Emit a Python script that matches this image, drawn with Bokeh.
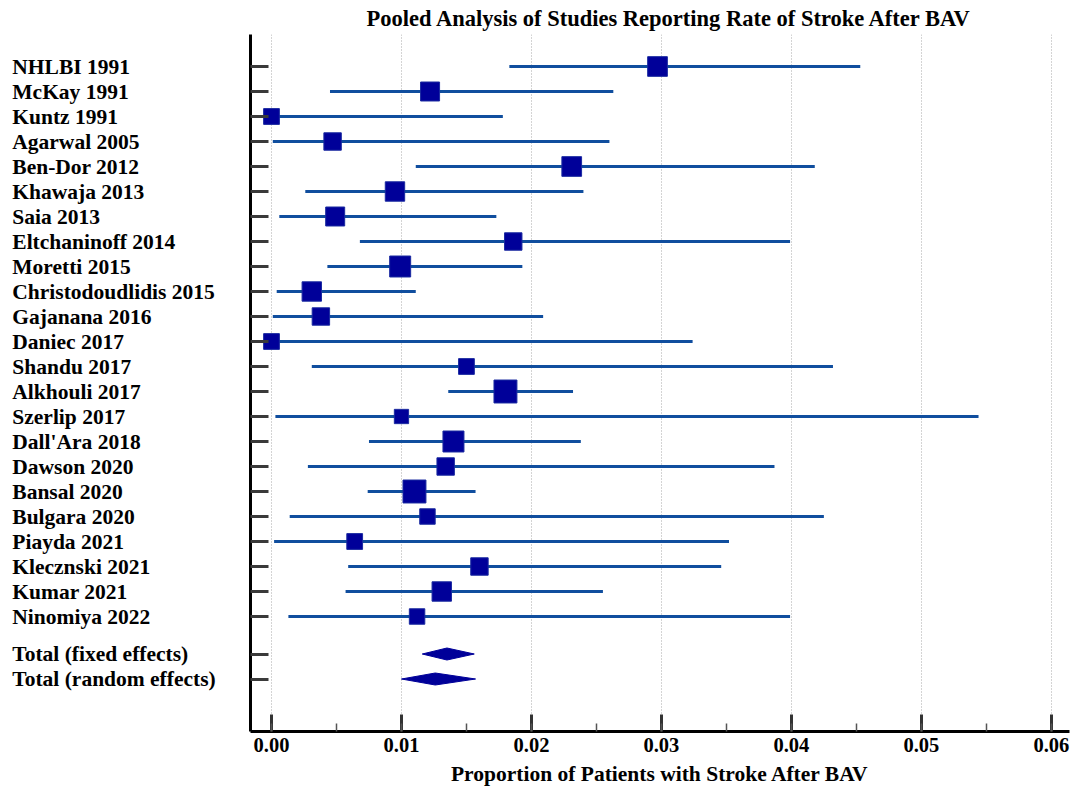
from bokeh.plotting import figure
from bokeh.layouts import row
from bokeh.models import (Range1d, FixedTicker, SingleIntervalTicker,
                          ColumnDataSource, PrintfTickFormatter)
from bokeh.core.properties import value
from bokeh.embed import file_html
from bokeh.resources import INLINE
import math

studies = ["NHLBI 1991", "McKay 1991", "Kuntz 1991", "Agarwal 2005", "Ben-Dor 2012",
           "Khawaja 2013", "Saia 2013", "Eltchaninoff 2014", "Moretti 2015",
           "Christodoudlidis 2015", "Gajanana 2016", "Daniec 2017", "Shandu 2017",
           "Alkhouli 2017", "Szerlip 2017", "Dall'Ara 2018", "Dawson 2020", "Bansal 2020",
           "Bulgara 2020", "Piayda 2021", "Kleczn" + "ski 2021", "Kumar 2021", "Ninomiya 2022"]

estimate = [0.0297, 0.0122, 0.0000, 0.0047, 0.0231, 0.0095, 0.0049, 0.0186, 0.0099,
            0.0031, 0.0038, 0.0000, 0.0150, 0.0180, 0.0100, 0.0140, 0.0134, 0.0110,
            0.0120, 0.0064, 0.0160, 0.0131, 0.0112]
lower = [0.0183, 0.0045, 0.0000, 0.0001, 0.0111, 0.0026, 0.0006, 0.0068, 0.0043,
         0.0004, 0.0001, 0.0000, 0.0031, 0.0136, 0.0003, 0.0075, 0.0028, 0.0074,
         0.0014, 0.0002, 0.0059, 0.0057, 0.0013]
upper = [0.0453, 0.0263, 0.0178, 0.0260, 0.0418, 0.0240, 0.0173, 0.0399, 0.0193,
         0.0111, 0.0209, 0.0324, 0.0432, 0.0232, 0.0544, 0.0238, 0.0387, 0.0157,
         0.0425, 0.0352, 0.0346, 0.0255, 0.0399]
weight = [5.0, 4.65, 3.2, 3.91, 5.0, 4.85, 4.65, 3.91, 5.68, 4.85, 3.91, 3.2, 3.2,
          6.79, 2.63, 5.68, 3.91, 6.79, 3.08, 3.2, 3.91, 4.85, 3.08]

totals = ["Total (fixed effects)", "Total (random effects)"]
total_est = [0.0135, 0.0126]
total_lo = [0.0116, 0.0100]
total_hi = [0.0156, 0.0157]

title = "Pooled Analysis of Studies Reporting Rate of Stroke After BAV"
xlabel = "Proportion of Patients with Stroke After BAV"

FONT = "Liberation Serif"
n = len(studies)
ys = [-i for i in range(n)]
total_y = [-(n - 1) - 1.5, -(n - 1) - 2.5]

H = 789
TOP = 34
BOTTOM = 58
LEFT_W = 240

y_range = Range1d(-26.6, 1.28)

# ---- main forest plot ----
p = figure(width=1075 - LEFT_W, height=H,
           x_range=Range1d(-0.001616, 0.061399), y_range=y_range,
           output_backend="svg", toolbar_location=None,
           min_border_left=10, min_border_right=6, min_border_top=TOP,
           min_border_bottom=BOTTOM)
p.outline_line_color = None

p.title.text = title
p.title.text_font = FONT
p.title.text_font_style = "bold"
p.title.text_font_size = "22.5px"
p.title.text_color = "black"
p.title.align = "left"
p.title.offset = 116
p.title.standoff = 7

p.ygrid.visible = False
p.xgrid.ticker = SingleIntervalTicker(interval=0.01, num_minor_ticks=2)
p.xgrid.grid_line_color = "#a8a8a8"
p.xgrid.grid_line_dash = "1 2"
p.xgrid.grid_line_width = 1

xa = p.xaxis[0]
xa.ticker = SingleIntervalTicker(interval=0.01, num_minor_ticks=2)
xa.formatter = PrintfTickFormatter(format="%.2f")
xa.axis_line_color = "black"
xa.axis_line_width = 3
xa.major_tick_in = 17
xa.major_tick_out = 0
xa.major_tick_line_width = 3
xa.major_tick_line_color = "#333333"
xa.minor_tick_in = 8
xa.minor_tick_out = 0
xa.minor_tick_line_width = 1.5
xa.minor_tick_line_color = "#555555"
xa.major_label_text_font = FONT
xa.major_label_text_font_style = "bold"
xa.major_label_text_font_size = "20.5px"
xa.major_label_text_color = "black"
xa.major_label_standoff = 6
xa.axis_label = xlabel
xa.axis_label_text_font = FONT
xa.axis_label_text_font_style = "bold"
xa.axis_label_text_font_size = "21.5px"
xa.axis_label_text_color = "black"
xa.axis_label_standoff = 7

ya = p.yaxis[0]
ya.ticker = FixedTicker(ticks=ys + total_y)
ya.major_label_overrides = {float(t): "" for t in ys + total_y}
ya.major_label_standoff = 0
ya.axis_line_color = "black"
ya.axis_line_width = 3
ya.major_tick_in = 18
ya.major_tick_out = 0
ya.major_tick_line_width = 3
ya.major_tick_line_color = "#3a3a3a"
ya.minor_tick_line_color = None

src = ColumnDataSource(dict(y=ys, est=estimate, lo=lower, hi=upper,
                            size=[0.985 * math.sqrt(w * 80) for w in weight]))
p.segment(x0="lo", x1="hi", y0="y", y1="y", source=src, line_color="#104E9E", line_width=3)
p.scatter(x="est", y="y", size="size", marker="square", source=src,
          fill_color="#000099", line_color="#1a2aa0", line_width=1)

h = 0.24
dxs = [[lo, e, hi, e] for lo, e, hi in zip(total_lo, total_est, total_hi)]
dys = [[y, y + h, y, y - h] for y in total_y]
p.patches(xs=dxs, ys=dys, fill_color="#000099", line_color="#000099", line_width=1)

# ---- study labels panel ----
lp = figure(width=LEFT_W, height=H, x_range=Range1d(0, LEFT_W), y_range=y_range,
            output_backend="svg", toolbar_location=None,
            x_axis_location=None, y_axis_location=None,
            min_border_left=0, min_border_right=0, min_border_top=TOP,
            min_border_bottom=BOTTOM)
lp.outline_line_color = None
lp.grid.visible = False
lsrc = ColumnDataSource(dict(x=[11.8] * (n + 2), y=ys + total_y, text=studies + totals))
lp.text(x="x", y="y", text="text", source=lsrc, text_font=value(FONT),
        text_font_style="bold", text_font_size="21.5px", text_color="black",
        text_baseline="middle", text_align="left")

layout = row(lp, p)
open("out.html", "w").write(file_html(layout, INLINE))
